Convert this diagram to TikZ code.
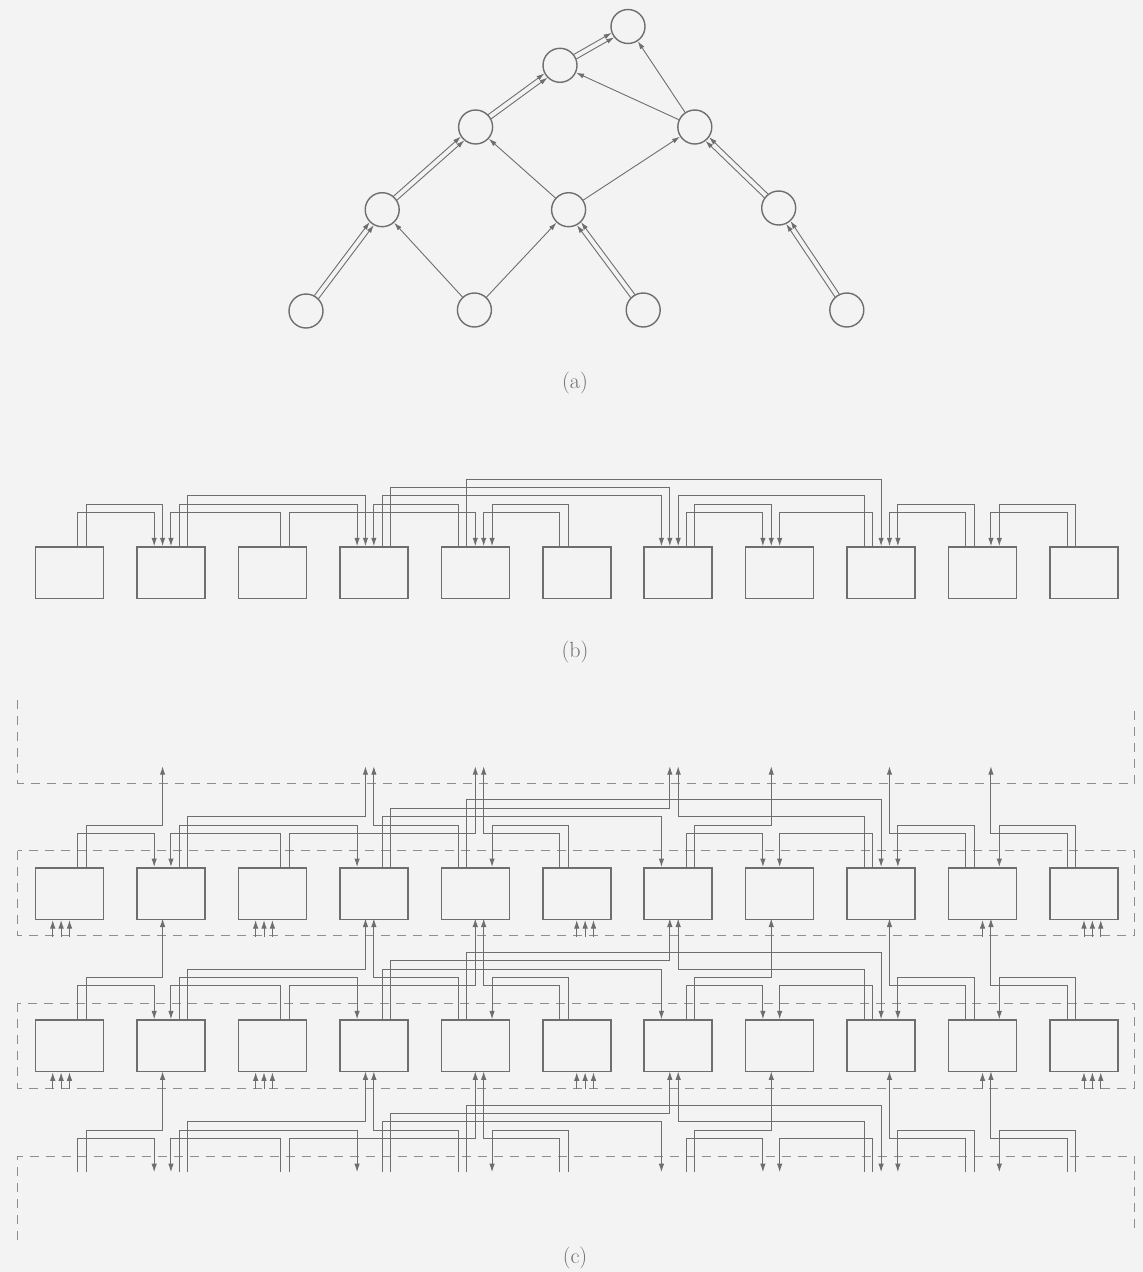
\documentclass[tikz,border=0pt]{standalone}
\usepackage{tikz}
\usetikzlibrary{arrows.meta,calc,positioning}
\definecolor{ink}{HTML}{6E6E6E}
\definecolor{dashink}{HTML}{8E8E8E}
\definecolor{paper}{HTML}{F3F3F3}

\newcommand{\pgap}{8.38pt}   % port / track pitch
\newcommand{\liftht}{100.8pt} % from box top up to the row above
% wire that stays in its row / wire that climbs to the row above
\newcommand{\wkeep}[6]{\draw[wire,tip] ([xshift=#3*\pgap]#1#2.north) -- ++(0pt,#4*\pgap) -| ([xshift=#6*\pgap]#1#5.north);}
\newcommand{\wlift}[6]{\draw[wire,tip] ([xshift=#3*\pgap]#1#2.north) -- ++(0pt,#4*\pgap) -| ([xshift=#6*\pgap,yshift=\liftht]#1#5.north);}
% the links of one row: src, port, track, dst, port
\newcommand{\links}[2]{%
  \wkeep{#1}{0}{1}{4}{1}{-2}
  #2{#1}{0}{2}{5}{1}{-1}
  \wkeep{#1}{2}{1}{4}{1}{0}
  #2{#1}{2}{2}{4}{4}{0}
  \wkeep{#1}{1}{1}{5}{3}{-2}
  #2{#1}{1}{2}{6}{3}{-1}
  #2{#1}{4}{-2}{5}{3}{0}
  \wkeep{#1}{4}{-1}{8}{8}{0}
  #2{#1}{5}{-2}{4}{4}{1}
  \wkeep{#1}{5}{-1}{5}{4}{2}
  \wkeep{#1}{3}{1}{6}{6}{-2}
  #2{#1}{3}{2}{7}{6}{-1}
  #2{#1}{8}{-2}{6}{6}{0}
  \wkeep{#1}{6}{1}{4}{7}{-2}
  #2{#1}{6}{2}{5}{7}{-1}
  \wkeep{#1}{8}{-1}{4}{7}{0}
  #2{#1}{9}{-2}{4}{8}{1}
  \wkeep{#1}{9}{-1}{5}{8}{2}
  #2{#1}{10}{-2}{4}{9}{1}
  \wkeep{#1}{10}{-1}{5}{9}{2}}
% double edge of the tree
\newcommand{\dbl}[2]{%
  \draw[tedge,dshort] ($(#1)!2.6pt!90:(#2)$) -- ($(#2)!2.6pt!-90:(#1)$);
  \draw[tedge,dshort] ($(#1)!2.6pt!-90:(#2)$) -- ($(#2)!2.6pt!90:(#1)$);}

\tikzset{
  vtx/.style={circle,draw=ink,line width=1.4pt,minimum size=34pt,inner sep=0pt},
  tedge/.style={draw=ink,line width=0.9pt,-{Latex[length=8pt,width=5pt]}},
  dshort/.style={shorten >=17.3pt,shorten <=17.3pt},
  pe/.style={rectangle,draw=ink,line width=1.5pt,minimum width=68pt,
    minimum height=51.5pt,inner sep=0pt},
  ghost/.style={rectangle,minimum width=68pt,minimum height=51.5pt,inner sep=0pt},
  wire/.style={draw=ink,line width=1pt},
  tip/.style={-{Latex[length=8.5pt,width=5.5pt]}},
  frame/.style={draw=dashink,line width=1pt,dash pattern=on 9pt off 7pt},
  lab/.style={font=\fontsize{22}{26}\selectfont,text=ink}
}

\begin{document}
\begin{tikzpicture}[x=1pt,y=-1pt]
  \fill[paper] (0,0) rectangle (1143,1272);
  \useasboundingbox (0,0) rectangle (1143,1272);

  % (a)
  \node[vtx] (apex) at (628,26.5) {};
  \node[vtx] (pre) at (560,65.3) {};
  \node[vtx] (nl) at (475.6,127) {};
  \node[vtx] (nr) at (694.8,127) {};
  \node[vtx] (ml) at (382.2,209.7) {};
  \node[vtx] (mm) at (568.6,209.7) {};
  \node[vtx] (mr) at (778.7,208) {};
  \node[vtx] (l1) at (306,311) {};
  \node[vtx] (l2) at (474.4,310) {};
  \node[vtx] (l3) at (643.2,310) {};
  \node[vtx] (l4) at (846.8,310) {};
  \dbl{l1}{ml}
  \dbl{l3}{mm}
  \dbl{l4}{mr}
  \dbl{ml}{nl}
  \dbl{mr}{nr}
  \dbl{nl}{pre}
  \dbl{pre}{apex}
  \draw[tedge] (l2) -- (ml);
  \draw[tedge] (l2) -- (mm);
  \draw[tedge] (mm) -- (nl);
  \draw[tedge] (mm) -- (nr);
  \draw[tedge] (nr) -- (pre);
  \draw[tedge] (nr) -- (apex);
  \node[lab] (capa) at (575,383) {(a)};

  % (b)
  \foreach \i in {0,...,10}
    \node[pe] (b\i) at ({69.5+101.45*\i},572.75) {};
  \links{b}{\wkeep}
  \node[lab] (capb) at (575,652) {(b)};

  % (c)
  \draw[frame] (17.8,700) -- (17.8,783.3) -- (1134.7,783.3) -- (1134.7,705);
  \draw[frame] (17.8,850.7) rectangle (1134.7,935.7);
  \draw[frame] (17.8,1003.2) rectangle (1134.7,1088);
  \draw[frame] (17.8,1240) -- (17.8,1156) -- (1134.7,1156) -- (1134.7,1232);
  \foreach \r/\yy in {1/893.5,2/1045.8}
    \foreach \i in {0,...,10}
      \node[pe] (c\r-\i) at ({69.5+101.45*\i},\yy) {};
  \foreach \i in {0,...,10}
    \node[ghost] (c3-\i) at ({69.5+101.45*\i},1198.1) {};
  \foreach \r in {1,2,3} {
    \links{c\r-}{\wlift}
  }
  % outside inputs
  \foreach \r in {1,2}
    \foreach \i/\k in {0/-2,0/-1,0/0,2/-2,2/-1,2/0,5/0,5/1,5/2,9/0,10/0,10/1,10/2}
      \draw[wire,tip] ([xshift=\k*\pgap,yshift=-16.5pt]c\r-\i.south) -- ([xshift=\k*\pgap]c\r-\i.south);
  \node[lab] (capc) at (575,1258) {(c)};
\end{tikzpicture}
\end{document}
